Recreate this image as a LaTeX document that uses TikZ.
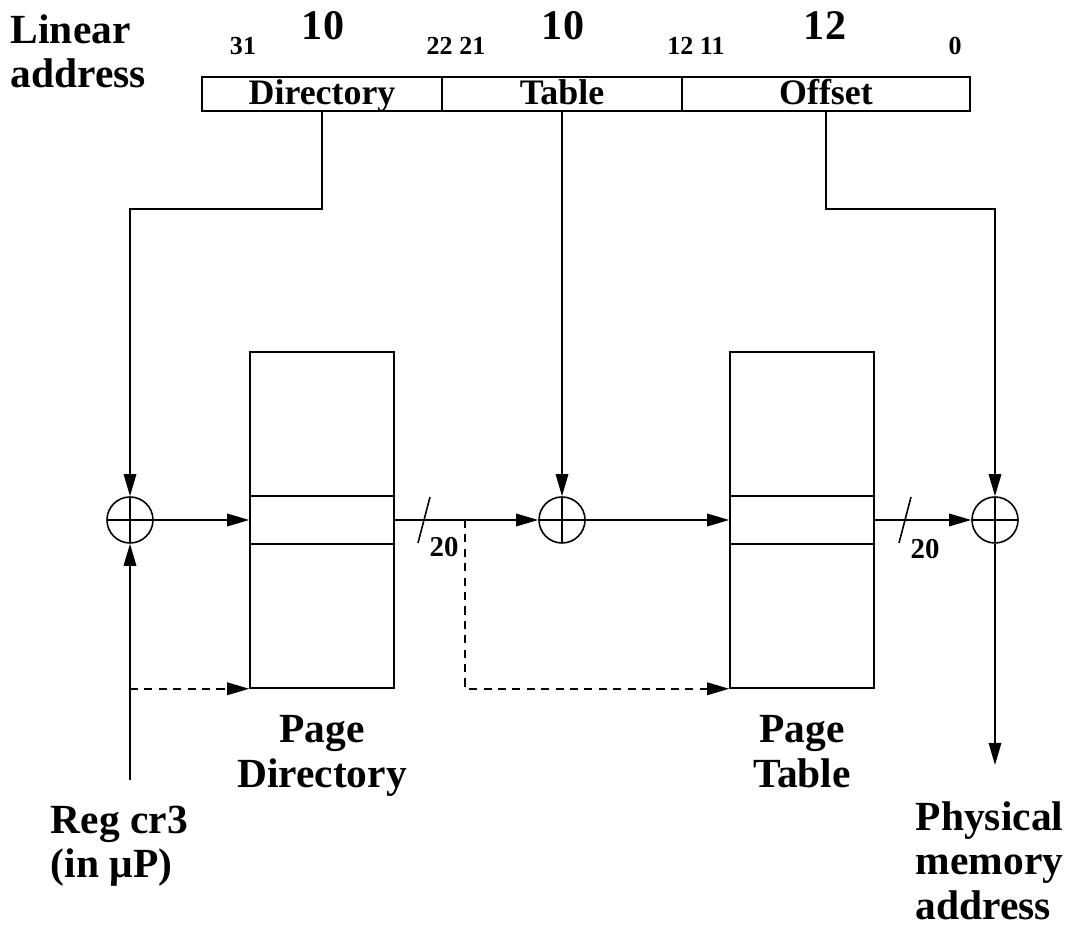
\documentclass[tikz,border=0pt]{standalone}
\usepackage{fontspec}
\setmainfont{Liberation Serif}
\usetikzlibrary{arrows.meta}

\tikzset{
  arr/.style={-{Triangle[length=2.2mm,width=1.25mm]}},
  bigtxt/.style={font=\fontsize{11.8}{12.6}\selectfont\bfseries, align=left, inner sep=0pt},
  fieldtxt/.style={font=\fontsize{10.2}{11}\selectfont\bfseries, text height=0.28cm, text depth=0.06cm},
  bittxt/.style={font=\fontsize{7.4}{8}\selectfont\bfseries, inner sep=0pt},
  widthtxt/.style={font=\fontsize{12}{13}\selectfont\bfseries, inner sep=0pt},
  field/.style={draw, minimum height=0.34cm, inner sep=0pt},
  adder/.style={draw, circle, minimum size=0.46cm, inner sep=0pt,
    path picture={\draw (path picture bounding box.north) -- (path picture bounding box.south)
      (path picture bounding box.west) -- (path picture bounding box.east);}},
  table/.style={draw, minimum width=1.44cm, minimum height=3.36cm, inner sep=0pt}
}

\begin{document}
\begin{tikzpicture}[line width=0.45pt, dashed/.style={dash pattern=on 2.3pt off 1.8pt}]
        \useasboundingbox (0,0) rectangle (10.68,9.30);

        % linear address
        \node[bigtxt, anchor=west] (lin) at (0.10,8.79) {Linear\\address};
        \node[field, fieldtxt, minimum width=2.40cm] (dir) at (3.22,8.36) {Directory};
        \node[field, fieldtxt, minimum width=2.40cm] (tab) at (5.62,8.36) {Table};
        \node[field, fieldtxt, minimum width=2.88cm] (off) at (8.26,8.36) {Offset};

        \node[widthtxt] (w1) at (3.23,9.04) {10};
        \node[widthtxt] (w2) at (5.63,9.04) {10};
        \node[widthtxt] (w3) at (8.25,9.04) {12};
        \node[bittxt] (b31) at (2.43,8.84) {31};
        \node[bittxt] (b22) at (4.56,8.84) {22 21};
        \node[bittxt] (b12) at (6.96,8.84) {12 11};
        \node[bittxt] (b0) at (9.55,8.84) {0};

        % adders and tables
        \node[adder] (s1) at (1.30,4.10) {};
        \node[adder] (s2) at (5.62,4.10) {};
        \node[adder] (s3) at (9.95,4.10) {};
        \node[table] (pd) at (3.22,4.10) {};
        \node[table] (pt) at (8.02,4.10) {};
        \draw (2.50,4.34) -- (3.94,4.34) (2.50,3.86) -- (3.94,3.86);
        \draw (7.30,4.34) -- (8.74,4.34) (7.30,3.86) -- (8.74,3.86);

        \node[bigtxt, align=center, anchor=north] (pdl) at (3.22,2.15) {Page\\Directory};
        \node[bigtxt, align=center, anchor=north] (ptl) at (8.02,2.15) {Page\\Table};
        \node[bigtxt, anchor=north west] (cr3l) at (0.50,1.25) {Reg cr3\\(in μP)};
        \node[bigtxt, anchor=north west] (phl) at (9.15,1.29) {Physical\\memory\\address};

        \coordinate (cr3) at (1.30,1.50);
        \coordinate (phys) at (9.95,1.65);
        \coordinate (tap) at (4.65,4.10);

        % index paths
        \draw[arr] (dir.south) -- ++(0,-0.97) -| (s1.north);
        \draw[arr] (tab.south) -- (s2.north);
        \draw[arr] (off.south) -- ++(0,-0.97) -| (s3.north);

        \draw[arr] (cr3) -- (s1.south);
        \draw[arr, dashed] (cr3 |- pd.south west) -- (pd.south west);
        \draw[arr] (s1.east) -- (pd.west);
        \draw[arr] (pd.east) -- (s2.west);
        \draw[arr, dashed] (tap) |- (pt.south west);
        \draw[arr] (s2.east) -- (pt.west);
        \draw[arr] (pt.east) -- (s3.west);
        \draw[arr] (s3.south) -- (phys);

        % bus width marks
        \draw (4.18,3.87) -- (4.30,4.33);
        \node[bittxt, font=\fontsize{8.2}{9}\selectfont\bfseries] (n1) at (4.44,3.83) {20};
        \draw (8.99,3.87) -- (9.11,4.33);
        \node[bittxt, font=\fontsize{8.2}{9}\selectfont\bfseries] (n2) at (9.25,3.81) {20};
\end{tikzpicture}
\end{document}
